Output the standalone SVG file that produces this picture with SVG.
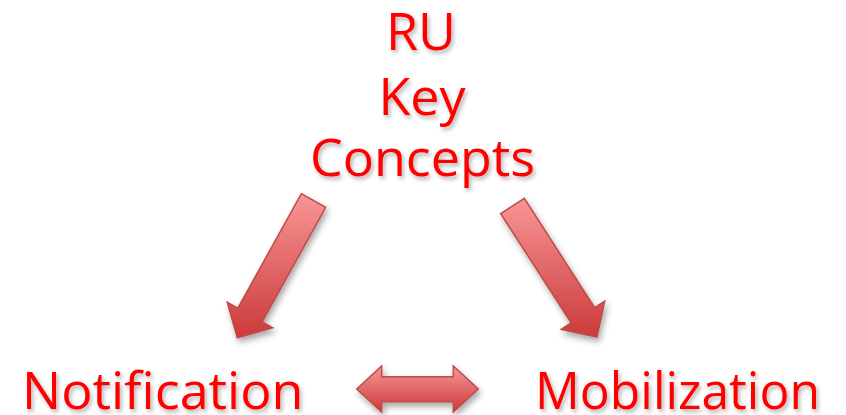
<svg xmlns="http://www.w3.org/2000/svg" width="846" height="415" viewBox="0 0 846 415">
<defs>
<linearGradient id="g" x1="0" y1="0" x2="0" y2="1">
<stop offset="0" stop-color="#F89696"/>
<stop offset="1" stop-color="#CC3A3A"/>
</linearGradient>
<filter id="ts" x="-10%" y="-20%" width="120%" height="150%">
<feDropShadow dx="2" dy="3" stdDeviation="2" flood-color="#000" flood-opacity="0.3"/>
</filter>
<filter id="as" x="-20%" y="-20%" width="150%" height="150%">
<feDropShadow dx="2" dy="4" stdDeviation="3" flood-color="#000" flood-opacity="0.35"/>
</filter>
</defs>
<style>
.t{font-family:"Open Sans","DejaVu Sans",sans-serif;font-size:52px;fill:#FF0000;filter:url(#ts)}
.a{fill:url(#g);stroke:#BE4B48;stroke-width:1.5;stroke-linejoin:miter;filter:url(#as)}
</style>
<rect width="846" height="415" fill="#FFFFFF"/>
<g id="node-ru">
<text class="t" x="421" y="50" text-anchor="middle">RU</text>
<text class="t" x="422" y="115" text-anchor="middle">Key</text>
<text class="t" x="422.5" y="176" text-anchor="middle">Concepts</text>
</g>
<g id="node-notification">
<text class="t" x="22" y="409">Notification</text>
</g>
<g id="node-mobilization">
<text class="t" x="535" y="409" textLength="285" lengthAdjust="spacingAndGlyphs">Mobilization</text>
</g>
<g id="connectors">
<polygon class="a" points="301.3,193.7 325.7,207.3 262.2,321.8 272.7,327.7 237.3,337.7 227.3,302.3 237.8,308.2"/>
<polygon class="a" points="500.7,213.6 524.3,198.4 594.7,307.6 604.7,301.1 597,337 561.1,329.3 571.1,322.8"/>
<polygon class="a" points="356.7,389 381.7,366 381.7,376.7 453.3,376.7 453.3,366 478.3,389 453.3,412 453.3,401.7 381.7,401.7 381.7,412"/>
</g>
</svg>
